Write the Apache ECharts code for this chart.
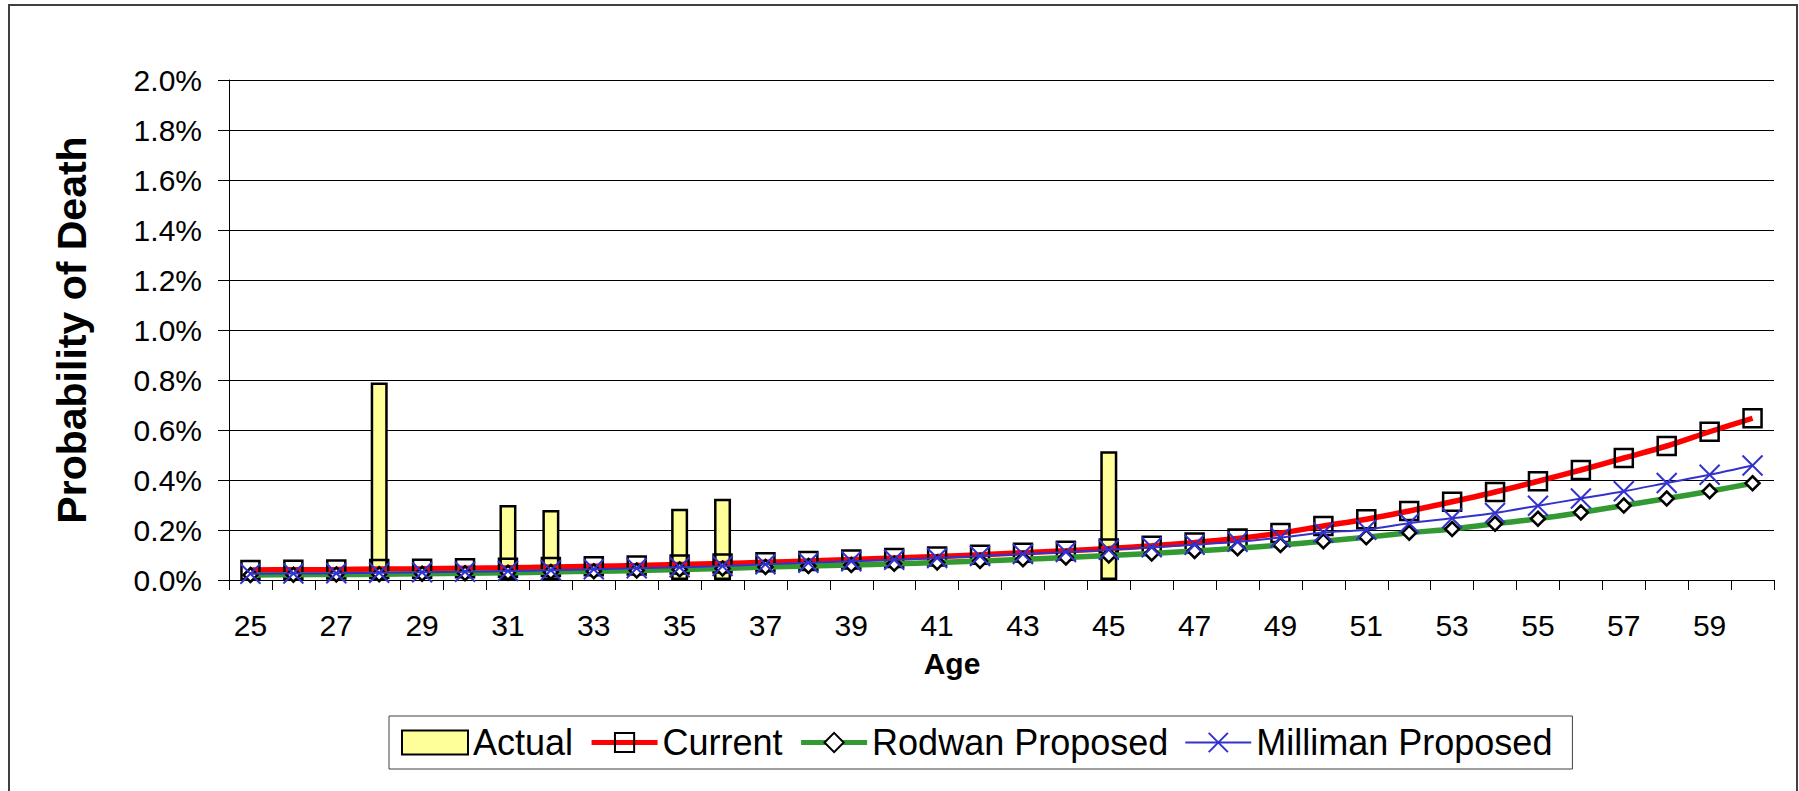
<!DOCTYPE html>
<html>
<head>
<meta charset="utf-8">
<script src="https://cdn.jsdelivr.net/npm/echarts@6/dist/echarts.min.js"></script>
<style>
  html, body { margin: 0; padding: 0; background: #fff; }
  #chart { width: 1799px; height: 791px; }
</style>
</head>
<body>
<div id="chart"></div>
<script>
// Ages on the horizontal axis
const ages = ['25','26','27','28','29','30','31','32','33','34','35','36','37','38','39','40','41','42',
              '43','44','45','46','47','48','49','50','51','52','53','54','55','56','57','58','59','60'];

// Probability of death, in percent (null = no observed rate at that age)
const actual = [null, null, null, 0.79, null, null, 0.30, 0.28, null, null, 0.285, 0.325, null, null, null, null, null, null,
                null, null, 0.515, null, null, null, null, null, null, null, null, null, null, null, null, null, null, null];
const current = [0.040, 0.041, 0.042, 0.044, 0.045, 0.047, 0.049, 0.052, 0.055, 0.058, 0.062, 0.066,
                 0.071, 0.076, 0.082, 0.088, 0.094, 0.101, 0.109, 0.117, 0.126, 0.137, 0.150, 0.166,
                 0.188, 0.216, 0.243, 0.276, 0.313, 0.352, 0.395, 0.440, 0.488, 0.536, 0.593, 0.647];
const rodwan = [0.020, 0.021, 0.022, 0.023, 0.025, 0.027, 0.029, 0.032, 0.035, 0.038, 0.042, 0.046,
                0.052, 0.056, 0.060, 0.065, 0.070, 0.076, 0.083, 0.090, 0.098, 0.106, 0.116, 0.127,
                0.140, 0.155, 0.171, 0.189, 0.204, 0.225, 0.245, 0.270, 0.298, 0.326, 0.355, 0.387];
const milliman = [0.025, 0.026, 0.027, 0.029, 0.031, 0.033, 0.036, 0.039, 0.043, 0.047, 0.051, 0.056,
                  0.063, 0.069, 0.075, 0.081, 0.088, 0.096, 0.104, 0.112, 0.121, 0.131, 0.141, 0.153,
                  0.170, 0.190, 0.201, 0.227, 0.247, 0.268, 0.297, 0.326, 0.355, 0.388, 0.421, 0.458];

const FONT = '"Liberation Sans", Arial, sans-serif';
const crossSymbol = 'path://M0,0L20,20M20,0L0,20';

const chart = echarts.init(document.getElementById('chart'), null, { renderer: 'svg' });

chart.setOption({
  animation: false,
  backgroundColor: '#ffffff',
  textStyle: { fontFamily: FONT, color: '#000' },
  graphic: [
    {
      type: 'rect',
      shape: { x: 9, y: 5, width: 1788, height: 900 },
      style: { fill: 'none', stroke: '#404040', lineWidth: 2 },
      silent: true
    },
    {
      type: 'text',
      x: 952, y: 663,
      style: {
        text: 'Age', fill: '#000',
        font: 'bold 30px ' + FONT,
        align: 'center', verticalAlign: 'middle'
      }
    }
  ],
  grid: { left: 229, right: 25, top: 80, bottom: 211, containLabel: false },
  legend: {
    left: 389, top: 716,
    orient: 'horizontal',
    padding: [6, 20, 6, 12],
    itemGap: 16,
    itemWidth: 66,
    itemHeight: 24,
    borderColor: '#404040',
    borderWidth: 1,
    backgroundColor: '#fff',
    textStyle: { fontSize: 36, fontFamily: FONT, color: '#000', lineHeight: 41 },
    data: [
      { name: 'Actual', icon: 'rect' },
      { name: 'Current', lineStyle: { width: 5, color: '#FF0000' } },
      { name: 'Rodwan Proposed', lineStyle: { width: 5, color: '#339933' } },
      { name: 'Milliman Proposed', lineStyle: { width: 2, color: '#3333CC' } }
    ]
  },
  xAxis: {
    type: 'category',
    data: ages,
    boundaryGap: true,
    axisLine: { lineStyle: { color: '#000', width: 1 } },
    axisTick: { show: true, interval: 0, length: 10, lineStyle: { color: '#000' } },
    axisLabel: { interval: 1, fontSize: 30, margin: 30, color: '#000', fontFamily: FONT },
    splitLine: { show: false }
  },
  yAxis: {
    type: 'value',
    min: 0, max: 2, interval: 0.2,
    name: 'Probability of Death',
    nameLocation: 'middle',
    nameGap: 137,
    nameTextStyle: { fontSize: 41, fontWeight: 'bold', color: '#000', fontFamily: FONT },
    axisLine: { show: true, lineStyle: { color: '#000', width: 1 } },
    axisTick: { show: true, length: 11, lineStyle: { color: '#000' } },
    axisLabel: {
      fontSize: 30, margin: 27, color: '#000', fontFamily: FONT,
      formatter: v => v.toFixed(1) + '%'
    },
    splitLine: { show: true, lineStyle: { color: '#000', width: 1 } }
  },
  series: [
    {
      name: 'Actual',
      type: 'bar',
      data: actual,
      barWidth: 17,
      itemStyle: { color: '#FFFF99', borderColor: '#000', borderWidth: 2.5 },
      z: 2
    },
    {
      name: 'Current',
      type: 'line',
      data: current,
      smooth: 0.3,
      symbol: 'rect',
      symbolSize: 18,
      showAllSymbol: true,
      lineStyle: { color: '#FF0000', width: 5.5 },
      itemStyle: { color: 'rgba(0,0,0,0)', borderColor: '#000', borderWidth: 2.5 },
      z: 3
    },
    {
      name: 'Rodwan Proposed',
      type: 'line',
      data: rodwan,
      smooth: 0.3,
      symbol: 'diamond',
      symbolSize: 14,
      showAllSymbol: true,
      lineStyle: { color: '#339933', width: 5.5 },
      itemStyle: { color: '#ffffff', borderColor: '#000', borderWidth: 2.5 },
      z: 4
    },
    {
      name: 'Milliman Proposed',
      type: 'line',
      data: milliman,
      smooth: 0.3,
      symbol: crossSymbol,
      symbolSize: 20,
      showAllSymbol: true,
      lineStyle: { color: '#3333CC', width: 2 },
      itemStyle: { color: '#3333CC', borderColor: '#3333CC', borderWidth: 2 },
      z: 5
    }
  ]
});
</script>
</body>
</html>
